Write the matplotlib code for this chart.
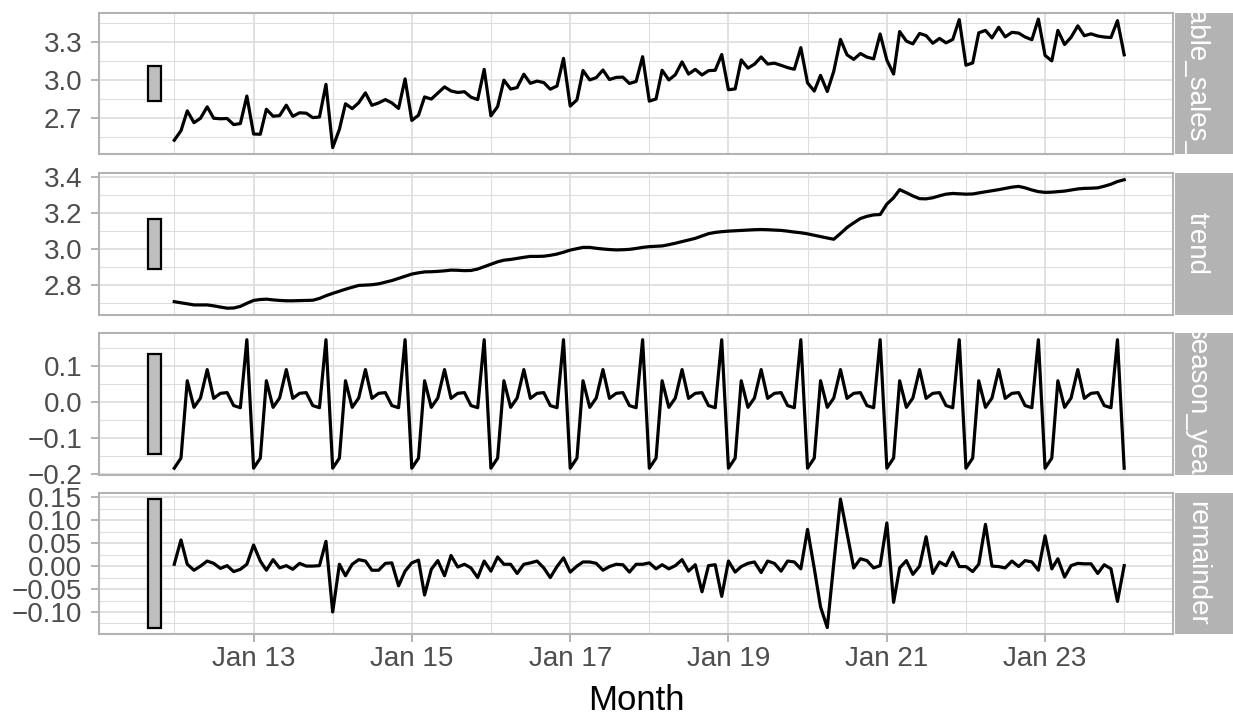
import matplotlib.pyplot as plt
import matplotlib.dates as mdates
from matplotlib.patches import Rectangle
import numpy as np
import pandas as pd

plt.rcParams['font.family'] = ['Liberation Sans', 'DejaVu Sans']

months = pd.date_range('2012-01-01', periods=145, freq='MS')

trend = np.array([
    2.709, 2.703, 2.697, 2.691, 2.691, 2.691, 2.686, 2.679, 2.673, 2.674, 2.683, 2.700,
    2.716, 2.721, 2.723, 2.719, 2.716, 2.714, 2.714, 2.715, 2.716, 2.717, 2.727, 2.742,
    2.755, 2.767, 2.778, 2.789, 2.799, 2.801, 2.803, 2.808, 2.817, 2.826, 2.838, 2.850,
    2.862, 2.869, 2.874, 2.875, 2.877, 2.880, 2.884, 2.883, 2.881, 2.882, 2.890, 2.903,
    2.916, 2.930, 2.939, 2.943, 2.949, 2.955, 2.960, 2.960, 2.961, 2.966, 2.973, 2.983,
    2.995, 3.003, 3.010, 3.010, 3.005, 3.001, 2.998, 2.996, 2.997, 2.999, 3.004, 3.010,
    3.014, 3.016, 3.018, 3.025, 3.033, 3.042, 3.051, 3.060, 3.073, 3.086, 3.093, 3.097,
    3.100, 3.102, 3.104, 3.106, 3.108, 3.109, 3.108, 3.106, 3.104, 3.100, 3.095, 3.091,
    3.085, 3.077, 3.070, 3.062, 3.055, 3.087, 3.120, 3.146, 3.170, 3.182, 3.190, 3.192,
    3.250, 3.285, 3.330, 3.313, 3.295, 3.280, 3.279, 3.285, 3.296, 3.305, 3.309, 3.307,
    3.305, 3.306, 3.312, 3.318, 3.324, 3.330, 3.337, 3.344, 3.348, 3.340, 3.328, 3.319,
    3.315, 3.316, 3.319, 3.322, 3.328, 3.334, 3.337, 3.338, 3.340, 3.349, 3.360, 3.375,
    3.385])

# one year of the seasonal component, Jan..Dec (it repeats every year)
season_pattern = [-0.185, -0.157, 0.058, -0.016, 0.010, 0.089,
                  0.009, 0.023, 0.025, -0.011, -0.017, 0.172]
season_year = np.array((season_pattern * 13)[:145])

remainder = np.array([
    0.004, 0.057, 0.004, -0.009, 0.000, 0.011, 0.006, -0.005, 0.001, -0.012, -0.007, 0.004,
    0.046, 0.011, -0.009, 0.014, -0.004, 0.001, -0.007, 0.006, 0.000, 0.000, 0.001, 0.054,
    -0.100, 0.004, -0.021, 0.004, 0.014, 0.011, -0.009, -0.009, 0.006, 0.007, -0.043, -0.011,
    0.007, 0.013, -0.063, -0.007, 0.012, -0.021, 0.023, -0.002, 0.004, -0.004, -0.025, 0.011,
    -0.011, 0.020, 0.004, 0.004, -0.016, 0.004, 0.007, 0.011, -0.004, -0.025, -0.001, 0.018,
    -0.013, 0.000, 0.009, 0.009, 0.006, -0.009, -0.001, 0.004, 0.003, -0.013, 0.004, 0.004,
    0.007, -0.006, 0.003, -0.006, 0.001, 0.014, -0.011, 0.003, -0.056, 0.001, 0.003, -0.066,
    0.011, -0.013, -0.001, 0.006, 0.009, -0.014, 0.011, 0.006, -0.011, 0.011, 0.009, -0.006,
    0.080, -0.005, -0.089, -0.134, 0.006, 0.146, 0.072, -0.004, 0.016, 0.012, -0.004, 0.001,
    0.094, -0.079, -0.004, 0.012, -0.018, 0.000, 0.064, -0.016, 0.009, 0.001, 0.030, -0.001,
    -0.001, -0.012, 0.004, 0.091, 0.000, -0.001, -0.004, 0.011, -0.001, 0.012, 0.009, -0.009,
    0.066, -0.006, 0.016, -0.024, 0.001, 0.006, 0.005, 0.005, -0.016, 0.003, -0.006, -0.077,
    0.001])

# STL: observed = trend + season + remainder
taxable_sales_log = trend + season_year + remainder

panel_names = ['taxable_sales_log', 'trend', 'season_year', 'remainder']
panel_series = [taxable_sales_log, trend, season_year, remainder]

y_major = [[2.7, 3.0, 3.3],
           [2.8, 3.0, 3.2, 3.4],
           [-0.2, -0.1, 0.0, 0.1],
           [-0.10, -0.05, 0.0, 0.05, 0.10, 0.15]]
y_labels = [['2.7', '3.0', '3.3'],
            ['2.8', '3.0', '3.2', '3.4'],
            ['\u22120.2', '\u22120.1', '0.0', '0.1'],
            ['\u22120.10', '\u22120.05', '0.00', '0.05', '0.10', '0.15']]
y_minor = [[2.55, 2.85, 3.15, 3.45],
           [2.7, 2.9, 3.1, 3.3],
           [-0.15, -0.05, 0.05, 0.15],
           [-0.125, -0.075, -0.025, 0.025, 0.075, 0.125]]

x_major = pd.to_datetime(['2013-01-01', '2015-01-01', '2017-01-01',
                          '2019-01-01', '2021-01-01', '2023-01-01'])
x_labels = ['Jan 13', 'Jan 15', 'Jan 17', 'Jan 19', 'Jan 21', 'Jan 23']
x_minor = pd.to_datetime(['2012-01-01', '2014-01-01', '2016-01-01', '2018-01-01',
                          '2020-01-01', '2022-01-01', '2024-01-01'])

# range bar, same height in every panel
bar_x0 = mdates.date2num(pd.Timestamp('2011-09-01'))
bar_x1 = mdates.date2num(pd.Timestamp('2011-11-03'))
bar_h = min(np.ptp(s) for s in panel_series)

x_lo = bar_x0
x_hi = mdates.date2num(months[-1])
x_pad = 0.05 * (x_hi - x_lo)

W, H = 1233, 719
fig = plt.figure(figsize=(W / 100, H / 100), dpi=100)

tops = [12.7, 173.3, 333.3, 492.7]
panel_h = 141.3
left, right = 99, 1173
grid_c = '#DEDEDE'
border_c = '#B3B3B3'

for k in range(4):
    top = tops[k]
    ax = fig.add_axes([left / W, 1 - (top + panel_h) / H, (right - left) / W, panel_h / H])
    s = panel_series[k]
    ax.plot(months, s, color='black', lw=2.3, zorder=3)
    mid = (s.min() + s.max()) / 2
    ax.add_patch(Rectangle((bar_x0, mid - bar_h / 2), bar_x1 - bar_x0, bar_h,
                           facecolor='#BEBEBE', edgecolor='black', lw=1.6, zorder=3))
    pad = 0.05 * np.ptp(s)
    ax.set_ylim(s.min() - pad, s.max() + pad)
    ax.set_xlim(x_lo - x_pad, x_hi + x_pad)

    ax.set_yticks(y_major[k], y_labels[k])
    ax.set_yticks(y_minor[k], minor=True)
    ax.set_xticks(x_major, x_labels)
    ax.set_xticks(x_minor, minor=True)

    ax.set_axisbelow(True)
    ax.grid(which='major', color=grid_c, lw=1.3)
    ax.grid(which='minor', color=grid_c, lw=0.8)
    for sp in ax.spines.values():
        sp.set_color(border_c)
        sp.set_linewidth(1.5)

    ax.tick_params(axis='y', which='major', length=6, width=1.4, color=border_c,
                   labelsize=20, labelcolor='#4D4D4D', pad=6)
    ax.tick_params(which='minor', length=0)
    if k < 3:
        ax.tick_params(axis='x', which='major', length=0, labelbottom=False)
    else:
        ax.tick_params(axis='x', which='major', length=6, width=1.4, color=border_c,
                       labelsize=20, labelcolor='#4D4D4D', pad=3)

    # facet strip on the right
    sax = fig.add_axes([1175 / W, 1 - (top + panel_h) / H, (W - 1175) / W, panel_h / H])
    sax.set_facecolor('#B3B3B3')
    sax.set_xticks([])
    sax.set_yticks([])
    for sp in sax.spines.values():
        sp.set_visible(False)
    sax.text(22 / (W - 1175), 0.5, panel_names[k], rotation=-90, ha='center', va='center',
             color='white', fontsize=20, clip_on=True, transform=sax.transAxes)

fig.text((left + right) / 2 / W, 1 - 710 / H, 'Month', ha='center', va='baseline',
         fontsize=25, color='black')

fig.savefig('out.png', dpi=100)
